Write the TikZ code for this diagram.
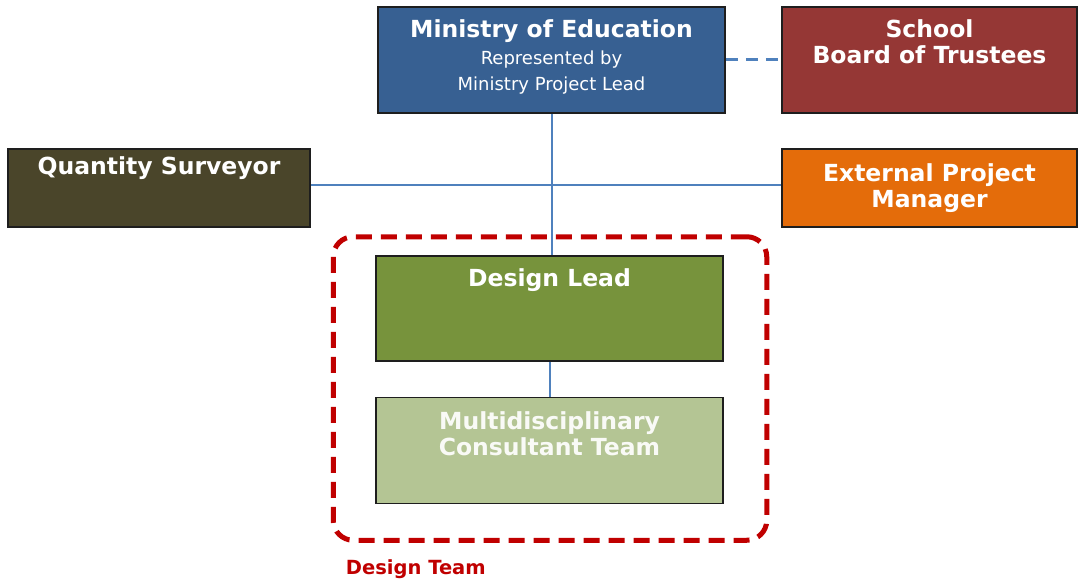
\documentclass[tikz,border=0pt]{standalone}
\usepackage{fontspec}
\setmainfont{DejaVu Sans}
\usepackage{tikz}
\usetikzlibrary{calc,positioning,fit}
\definecolor{moeblue}{HTML}{376092}
\definecolor{boardred}{HTML}{953735}
\definecolor{qsolive}{HTML}{4A452A}
\definecolor{epmorange}{HTML}{E46C0A}
\definecolor{leadgreen}{HTML}{77933C}
\definecolor{teamgreen}{HTML}{B4C594}
\definecolor{linkblue}{HTML}{4F81BD}
\definecolor{teamred}{HTML}{C00000}
\definecolor{blockline}{HTML}{1E1E1E}
\tikzset{block/.style = {draw=blockline, line width=1.5pt, rectangle, inner sep=0pt,
                  minimum width=347pt, minimum height=106pt},
        title/.style = {anchor=north, inner sep=0pt, align=center, text=white,
                  font=\fontsize{23.5}{26.5}\selectfont\bfseries},
        link/.style = {draw=linkblue, line width=2pt}
    }
\newcommand{\subfont}{\mdseries\fontsize{18}{26}\selectfont}

\begin{document}
\begin{tikzpicture}[x=1pt, y=1pt]
  \tikzstyle{dlink} = [link, line width=3pt, dash pattern=on 12pt off 8pt]
  \tikzstyle{group} = [draw=teamred, line width=5pt, dash pattern=on 16pt off 9pt,
                       rounded corners=20pt, inner sep=0pt]

  \useasboundingbox (0,0) rectangle (1078,-578);

  % top row
  \node[block, fill=moeblue,
        label={[title, yshift=-13.4pt]north:{Ministry of Education\\{\subfont Represented by}\\{\subfont Ministry Project Lead}}}]
        (moe) at (551.5,-60) {};
  \node[block, fill=boardred, minimum width=295pt,
        label={[title, yshift=-12.8pt]north:{School\\Board of Trustees}}]
        (board) at (929.5,-60) {};

  % advisers either side
  \node[block, fill=qsolive, minimum width=302pt, minimum height=78pt,
        label={[title, yshift=-8.1pt]north:{Quantity Surveyor}}]
        (qs) at (159,-188) {};
  \node[block, fill=epmorange, minimum width=295pt, minimum height=78pt,
        label={[title, yshift=-14.8pt]north:{External Project\\Manager}}]
        (epm) at (929.5,-188) {};

  % design team
  \node[block, fill=leadgreen, minimum height=105pt,
        label={[title, yshift=-13.4pt]north:{Design Lead}}]
        (lead) at (549.5,-308.5) {};
  \node[block, fill=teamgreen, minimum height=106pt,
        label={[title, yshift=-14.6pt, text=white!92!teamgreen]north:{Multidisciplinary\\Consultant Team}}]
        (team) at (549.5,-450.5) {};

  \node[group, fit={([xshift=-42pt,yshift=18.5pt]lead.north west) ([xshift=43pt,yshift=-36pt]team.south east)}]
        (dteam) {};
  \node[anchor=base west, inner sep=0pt, text=teamred, font=\fontsize{19.5}{22}\selectfont\bfseries]
        (dteamlabel) at ([xshift=15pt,yshift=-32pt]dteam.south west) {Design Team};

  % connectors
  \draw[link] (moe.south) -- (moe.south |- lead.north);
  \draw[link] ([yshift=3pt]qs.east) -- ([yshift=3pt]qs.east -| epm.west);
  \draw[link] (lead.south) -- (team.north);
  \draw[dlink] (moe.east) -- (board.west);
\end{tikzpicture}
\end{document}
